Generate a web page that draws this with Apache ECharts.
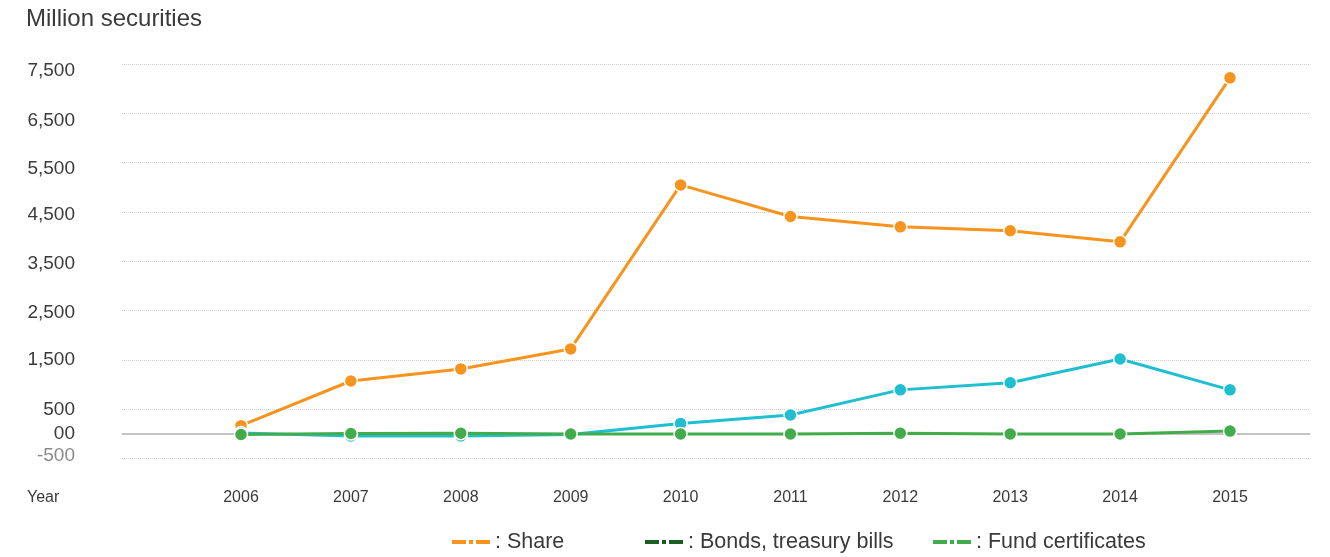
<!DOCTYPE html>
<html>
<head>
<meta charset="utf-8">
<style>
  html, body { margin: 0; padding: 0; background: #fff; }
  #chart { width: 1330px; height: 557px; }
</style>
<script src="https://cdn.jsdelivr.net/npm/echarts@6/dist/echarts.min.js"></script>
</head>
<body>
<div id="chart"></div>
<script>
// Yearly volume of listed securities (million securities)
const years = [2006, 2007, 2008, 2009, 2010, 2011, 2012, 2013, 2014, 2015];
const shareValues = [170, 1075, 1320, 1725, 5050, 4410, 4200, 4120, 3895, 7220];
const bondValues = [20, -40, -40, -10, 215, 385, 895, 1040, 1520, 895];
const fundValues = [-10, 10, 15, 0, 0, 0, 15, 0, 0, 60];

const yTicks = [-500, 0, 500, 1500, 2500, 3500, 4500, 5500, 6500, 7500];
const yTickLabels = ['-500', '00', '500', '1,500', '2,500', '3,500', '4,500', '5,500', '6,500', '7,500'];

const seriesNames = ['Share', 'Bonds, treasury bills', 'Fund certificates'];
const lineColors = ['#F7941E', '#1FBED1', '#43AC4A'];
const legendColors = ['#F7941E', '#1B5E20', '#43AC4A'];

const FONT = '"Liberation Sans", Arial, sans-serif';
const TEXT = '#3a3a3a';
const dashDotIcon = 'path://M0,0H14V4H0Z M17,0H21V4H17Z M24,0H38V4H24Z';

// vertical nudge (px, downward positive) of each y tick label
const labelNudge = [-3, -0.5, 0, -0.5, 2.5, 2, 3, 6, 7, 7];

function pairs(values) {
  return values.map((v, i) => [years[i], v]);
}

// rich styles: one per tick label, shifting the text by padding
const yRich = {};
labelNudge.forEach((d, i) => {
  const pad = Math.round(Math.abs(d) * 2);
  yRich['t' + i] = {
    fontFamily: FONT,
    fontSize: 19,
    color: yTicks[i] < 0 ? '#8a8a8a' : TEXT,
    padding: d >= 0 ? [pad, 0, 0, 0] : [0, 0, pad, 0]
  };
});

const chart = echarts.init(document.getElementById('chart'), null, { renderer: 'canvas' });

const seriesValues = [shareValues, bondValues, fundValues];
const series = seriesNames.map((name, i) => ({
  name: name,
  type: 'line',
  data: pairs(seriesValues[i]),
  symbol: 'circle',
  symbolSize: 13,
  lineStyle: { color: lineColors[i], width: 3 },
  itemStyle: { color: lineColors[i], borderColor: '#fff', borderWidth: 1.5 },
  emphasis: { disabled: true },
  z: 3 + i
}));

// solid baseline at zero
series[0].markLine = {
  silent: true,
  symbol: 'none',
  label: { show: false },
  lineStyle: { color: '#c4c4c4', width: 2, type: 'solid' },
  data: [{ yAxis: 0 }],
  z: 1
};

const legendLefts = [452, 645, 933];
const legends = seriesNames.map((name, i) => ({
  left: legendLefts[i],
  top: 531,
  padding: 0,
  orient: 'horizontal',
  icon: dashDotIcon,
  itemWidth: 38,
  itemHeight: 4,
  selectedMode: false,
  formatter: ': {name}',
  textStyle: { fontFamily: FONT, fontSize: 21.5, color: TEXT },
  data: [{ name: name, itemStyle: { color: legendColors[i], borderWidth: 0 } }]
}));

chart.setOption({
  animation: false,
  backgroundColor: '#fff',
  title: {
    text: 'Million securities',
    left: 26,
    top: 7,
    padding: 0,
    textStyle: { fontFamily: FONT, fontSize: 24, fontWeight: 'normal', color: TEXT }
  },
  graphic: [{
    type: 'text',
    left: 27,
    top: 490,
    style: { text: 'Year', fontFamily: FONT, fontSize: 16, fill: TEXT }
  }],
  legend: legends,
  grid: { left: 122, right: 20, top: 64, bottom: 98.3 },
  xAxis: {
    type: 'value',
    min: 2004.917,
    max: 2015.728,
    axisLine: { show: false },
    axisTick: { show: false },
    splitLine: { show: false },
    axisLabel: {
      customValues: years,
      margin: 31,
      fontFamily: FONT,
      fontSize: 16,
      color: TEXT,
      formatter: v => String(v)
    }
  },
  yAxis: {
    type: 'value',
    min: -500,
    max: 7500,
    interval: 500,
    axisLine: { show: false },
    axisTick: { show: false, customValues: yTicks },
    splitLine: { show: true, lineStyle: { color: '#cfcfcf', width: 1, type: 'dotted' } },
    axisLabel: {
      customValues: yTicks,
      margin: 47,
      fontFamily: FONT,
      fontSize: 19,
      color: TEXT,
      formatter: v => {
        const idx = yTicks.indexOf(v);
        return idx >= 0 ? '{t' + idx + '|' + yTickLabels[idx] + '}' : '';
      },
      rich: yRich
    }
  },
  series: series
});
</script>
</body>
</html>
